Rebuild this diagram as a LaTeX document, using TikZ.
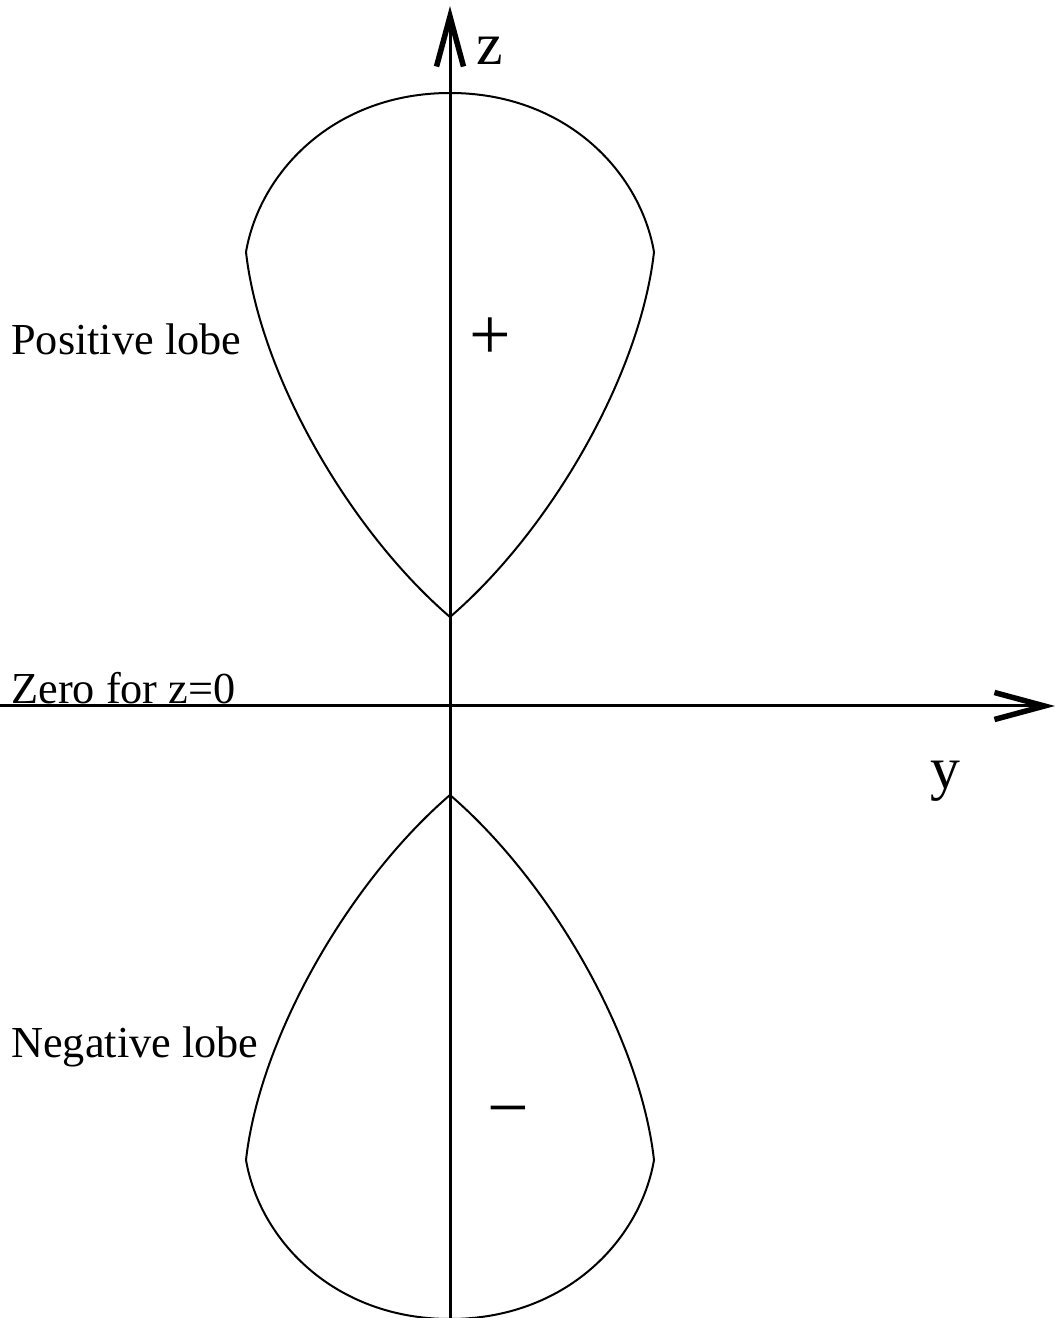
\documentclass[tikz,border=0pt]{standalone}
\usepackage{fontspec}
\setmainfont{Liberation Serif}
\usepackage{tikz}
\usetikzlibrary{arrows.meta}

\begin{document}
\begin{tikzpicture}[
  axis/.style={line width=0.06cm,-{Straight Barb[length=1cm,width=0.54cm,line width=0.11cm]}},
  lobe/.style={line width=0.04cm},
  lbl/.style={anchor=base west,inner sep=0pt,font=\fontsize{25.2}{30}\selectfont},
  axlbl/.style={inner sep=0pt,font=\fontsize{34}{40}\selectfont},
  sgn/.style={inner sep=0pt,font=\fontsize{42}{48}\selectfont}]
  \useasboundingbox (-9,-12.24) rectangle (12.12,14.12);
  % axes
  \coordinate (zbot) at (0,-12.24);
  \coordinate (ztop) at (0,14.0);
  \coordinate (yleft) at (-9,0);
  \coordinate (yright) at (12.1,0);
  \draw[axis] (zbot) -- (ztop);
  \draw[axis] (yleft) -- (yright);
  \node[axlbl] (zlbl) at (0.8,13.1) {z};
  \node[axlbl] (ylbl) at (9.9,-1.5) {y};
  % lobes
  \foreach \sy in {1,-1}{
    \foreach \sx in {1,-1}{
      \begin{scope}[xscale=\sx,yscale=\sy]
        \draw[lobe] (0,1.78) .. controls (2.0,3.5) and (3.8,6.6) .. (4.08,9.08)
                    .. controls (3.8,10.7) and (2.3,12.26) .. (0,12.26);
      \end{scope}
    }
  }
  \node[sgn] (plus) at (0.8,7.34) {+};
  \node[sgn] (minus) at (1.16,-8.26) {−};
  % labels
  \node[lbl] (poslbl) at (-8.78,7.02) {Positive lobe};
  \node[lbl] (zerolbl) at (-8.78,0.04) {Zero for z=0};
  \node[lbl] (neglbl) at (-8.78,-7.02) {Negative lobe};
\end{tikzpicture}
\end{document}
